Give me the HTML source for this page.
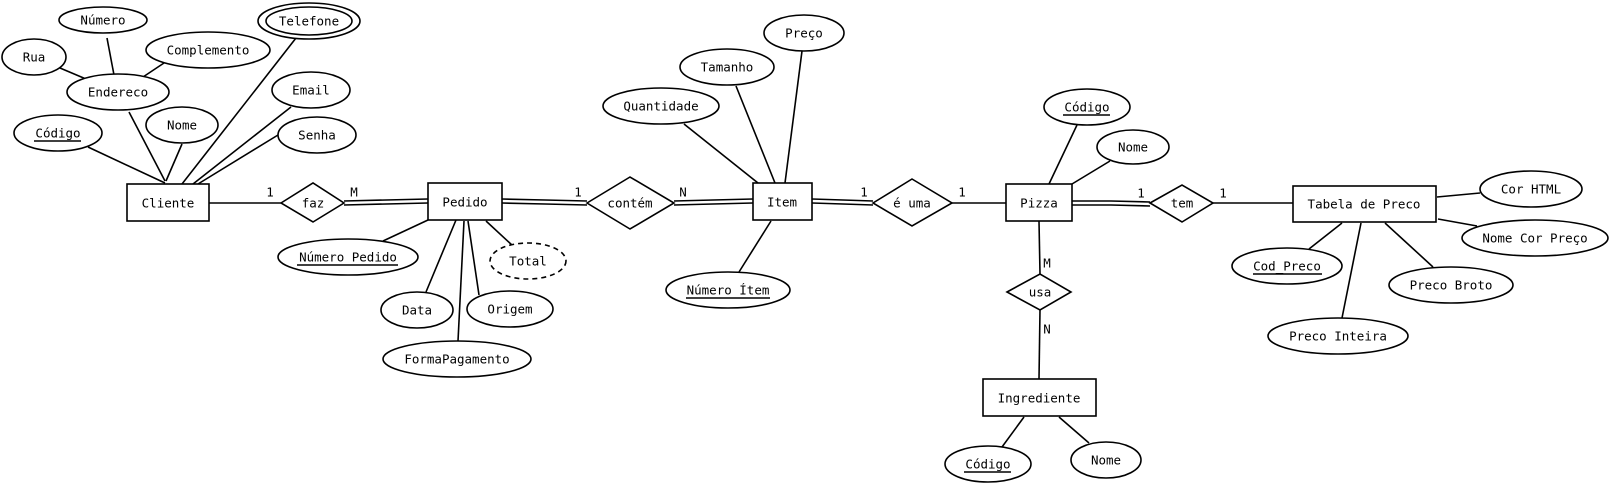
<!DOCTYPE html>
<html><head><meta charset="utf-8"><style>
html,body{margin:0;padding:0;background:#fff;}
svg{display:block;}
text{font-family:"DejaVu Sans Mono","Liberation Mono",monospace;font-size:12.5px;fill:#000;}
</style></head><body>
<svg width="1611" height="483" viewBox="0 0 1611 483" xmlns="http://www.w3.org/2000/svg">
<g stroke="#000" stroke-width="1.6" fill="none">
<!-- Cliente attribute lines -->
<line x1="88" y1="147" x2="165" y2="183"/>
<line x1="129" y1="112" x2="165" y2="181"/>
<line x1="182" y1="144" x2="166" y2="181"/>
<line x1="296" y1="38" x2="182" y2="184"/>
<line x1="291" y1="107" x2="193" y2="184"/>
<line x1="278" y1="135" x2="198" y2="184"/>
<line x1="60" y1="68" x2="86" y2="79"/>
<line x1="107" y1="38" x2="114" y2="75"/>
<line x1="164" y1="63" x2="143" y2="77"/>
<!-- Cliente - faz -->
<line x1="209" y1="203" x2="281" y2="203"/>
<!-- faz - Pedido double -->
<polyline points="344,201 386,200 428,199"/>
<polyline points="344,205 386,204 428,203"/>
<!-- Pedido attrs -->
<line x1="383" y1="241" x2="428" y2="220"/>
<line x1="426" y1="292" x2="456" y2="220"/>
<line x1="458" y1="341" x2="464" y2="221"/>
<line x1="479" y1="295" x2="468" y2="221"/>
<line x1="513" y1="246" x2="486" y2="221"/>
<!-- Pedido - contem double -->
<polyline points="502,199 545,200 587,201"/>
<polyline points="502,203 545,204 587,205"/>
<!-- contem - Item double -->
<polyline points="674,201 713,200 753,199"/>
<polyline points="674,205 713,204 753,203"/>
<!-- Item attrs -->
<line x1="684" y1="124" x2="758" y2="183"/>
<line x1="736" y1="86" x2="775" y2="183"/>
<line x1="802" y1="51" x2="785" y2="183"/>
<line x1="739" y1="272" x2="771" y2="221"/>
<!-- Item - e uma double -->
<polyline points="812,199 843,200 873,201"/>
<polyline points="812,203 843,204 873,205"/>
<!-- e uma - Pizza -->
<line x1="952" y1="203" x2="1006" y2="203"/>
<!-- Pizza attrs -->
<line x1="1077" y1="125" x2="1049" y2="184"/>
<line x1="1110" y1="161" x2="1072" y2="184"/>
<!-- Pizza - usa - Ingrediente -->
<polyline points="1039,221 1040,274"/>
<polyline points="1040,310 1039,379"/>
<line x1="1024" y1="417" x2="1002" y2="447"/>
<line x1="1059" y1="417" x2="1089" y2="443"/>
<!-- Pizza - tem double -->
<polyline points="1072,201 1111,201 1150,202"/>
<polyline points="1072,205 1111,205 1150,206"/>
<line x1="1213" y1="203" x2="1293" y2="203"/>
<!-- Tabela attrs -->
<line x1="1437" y1="197" x2="1480" y2="193"/>
<line x1="1438" y1="219" x2="1477" y2="226"/>
<line x1="1342" y1="223" x2="1309" y2="249"/>
<line x1="1361" y1="223" x2="1342" y2="318"/>
<line x1="1385" y1="223" x2="1433" y2="267"/>
</g>
<g stroke="#000" stroke-width="1.6" fill="#fff">
<!-- Entities -->
<rect x="127" y="184" width="82" height="37"/>
<rect x="428" y="183" width="74" height="37"/>
<rect x="753" y="183" width="59" height="37"/>
<rect x="1006" y="184" width="66" height="37"/>
<rect x="983" y="379" width="113" height="37"/>
<rect x="1293" y="186" width="143" height="36"/>
<!-- Diamonds -->
<polygon points="281,203 313,183 344,203 313,222"/>
<polygon points="587,203 630,177 674,203 630,229"/>
<polygon points="873,203 912,179 952,203 912,226"/>
<polygon points="1007,292 1040,274 1071,292 1040,310"/>
<polygon points="1150,203 1182,185 1213,203 1182,222"/>
<!-- Ellipses -->
<ellipse cx="103" cy="20" rx="44" ry="13"/>
<ellipse cx="34" cy="57" rx="32" ry="18"/>
<ellipse cx="208" cy="50" rx="62" ry="18"/>
<ellipse cx="309" cy="21" rx="51" ry="18"/>
<ellipse cx="309" cy="21" rx="43" ry="14"/>
<ellipse cx="118" cy="92" rx="51" ry="18"/>
<ellipse cx="311" cy="90" rx="39" ry="18"/>
<ellipse cx="182" cy="125" rx="36" ry="18"/>
<ellipse cx="58" cy="133" rx="44" ry="18"/>
<ellipse cx="317" cy="135" rx="39" ry="18"/>
<ellipse cx="348" cy="257" rx="70" ry="18"/>
<ellipse cx="528" cy="261" rx="38" ry="18" stroke-dasharray="5,4"/>
<ellipse cx="417" cy="310" rx="36" ry="18"/>
<ellipse cx="510" cy="309" rx="43" ry="18"/>
<ellipse cx="457" cy="359" rx="74" ry="18"/>
<ellipse cx="804" cy="33" rx="40" ry="18"/>
<ellipse cx="727" cy="67" rx="47" ry="18"/>
<ellipse cx="661" cy="106" rx="58" ry="18"/>
<ellipse cx="728" cy="290" rx="62" ry="18"/>
<ellipse cx="1087" cy="107" rx="43" ry="18"/>
<ellipse cx="1133" cy="147" rx="36" ry="17"/>
<ellipse cx="988" cy="464" rx="43" ry="18"/>
<ellipse cx="1106" cy="460" rx="35" ry="18"/>
<ellipse cx="1531" cy="189" rx="51" ry="18"/>
<ellipse cx="1535" cy="238" rx="73" ry="18"/>
<ellipse cx="1287" cy="266" rx="55" ry="18"/>
<ellipse cx="1451" cy="285" rx="62" ry="18"/>
<ellipse cx="1338" cy="336" rx="70" ry="18"/>
</g>
<g text-anchor="middle" dominant-baseline="central">
<text x="168" y="203">Cliente</text>
<text x="465" y="202">Pedido</text>
<text x="782" y="202">Item</text>
<text x="1039" y="203">Pizza</text>
<text x="1039" y="398">Ingrediente</text>
<text x="1364" y="204">Tabela de Preco</text>
<text x="313" y="203">faz</text>
<text x="630" y="203">contém</text>
<text x="912" y="203">é uma</text>
<text x="1040" y="292">usa</text>
<text x="1182" y="203">tem</text>
<text x="103" y="20">Número</text>
<text x="34" y="57">Rua</text>
<text x="208" y="50">Complemento</text>
<text x="309" y="21">Telefone</text>
<text x="118" y="92">Endereco</text>
<text x="311" y="90">Email</text>
<text x="182" y="125">Nome</text>
<text x="58" y="133">Código</text>
<text x="317" y="135">Senha</text>
<text x="348" y="257">Número Pedido</text>
<text x="528" y="261">Total</text>
<text x="417" y="310">Data</text>
<text x="510" y="309">Origem</text>
<text x="457" y="359">FormaPagamento</text>
<text x="804" y="33">Preço</text>
<text x="727" y="67">Tamanho</text>
<text x="661" y="106">Quantidade</text>
<text x="728" y="290">Número Ítem</text>
<text x="1087" y="107">Código</text>
<text x="1133" y="147">Nome</text>
<text x="988" y="464">Código</text>
<text x="1106" y="460">Nome</text>
<text x="1531" y="189">Cor HTML</text>
<text x="1535" y="238">Nome Cor Preço</text>
<text x="1287" y="266">Cod_Preco</text>
<text x="1451" y="285">Preco Broto</text>
<text x="1338" y="336">Preco Inteira</text>
<text x="270" y="192">1</text>
<text x="354" y="192">M</text>
<text x="578" y="192">1</text>
<text x="683" y="192">N</text>
<text x="864" y="192">1</text>
<text x="962" y="192">1</text>
<text x="1047" y="263">M</text>
<text x="1047" y="329">N</text>
<text x="1141" y="193">1</text>
<text x="1223" y="193">1</text>
</g>
<g stroke="#000" stroke-width="1.6">
<line x1="34" y1="141" x2="81" y2="141"/>
<line x1="297" y1="265" x2="398" y2="265"/>
<line x1="686" y1="298" x2="770" y2="298"/>
<line x1="1063" y1="115" x2="1110" y2="115"/>
<line x1="964" y1="472" x2="1011" y2="472"/>
<line x1="1253" y1="274" x2="1322" y2="274"/>
</g>
</svg>
</body></html>
